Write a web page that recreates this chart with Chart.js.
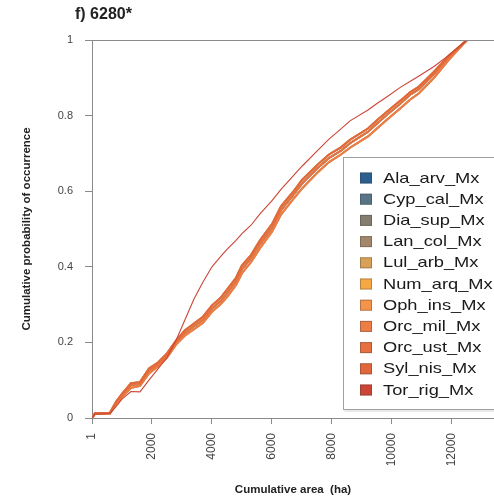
<!DOCTYPE html>
<html>
<head>
<meta charset="utf-8">
<script src="https://cdn.jsdelivr.net/npm/chart.js@4/dist/chart.umd.min.js"></script>
<style>
  html, body { margin: 0; padding: 0; background: #fff; }
  #wrap { width: 494px; height: 499px; position: relative; }
</style>
</head>
<body>
<div id="wrap"><canvas id="curveChart" width="494" height="499"></canvas></div>
<script>
// cumulative area (ha) where each curve is sampled
const areaHa = [0, 100, 600, 800, 1000, 1300, 1600, 1900, 2200, 2500, 2800, 3100, 3400, 3700,
  4000, 4300, 4500, 4800, 5000, 5300, 5600, 6000, 6300, 6700, 7000, 7500, 7900, 8300, 8600, 9200,
  9500, 9800, 10300, 10600, 10900, 11400, 11900, 12500];

// cumulative probability of occurrence, the three close curves of the main bundle
const bundleLow = [0, 0.011, 0.012, 0.036, 0.055, 0.08, 0.085, 0.118, 0.136, 0.16, 0.194, 0.218, 0.235, 0.252,
  0.281, 0.302, 0.32, 0.352, 0.383, 0.412, 0.449, 0.493, 0.538, 0.578, 0.607, 0.648, 0.677, 0.697, 0.715, 0.745,
  0.766, 0.787, 0.821, 0.842, 0.859, 0.9, 0.948, 1];
const bundleMid = [0, 0.012, 0.013, 0.04, 0.06, 0.087, 0.09, 0.125, 0.141, 0.165, 0.2, 0.225, 0.243, 0.26,
  0.29, 0.31, 0.33, 0.362, 0.394, 0.422, 0.46, 0.503, 0.55, 0.589, 0.62, 0.66, 0.688, 0.707, 0.727, 0.757,
  0.779, 0.8, 0.833, 0.855, 0.87, 0.91, 0.955, 1];
const bundleHigh = [0, 0.013, 0.014, 0.043, 0.064, 0.092, 0.095, 0.131, 0.147, 0.171, 0.205, 0.232, 0.25, 0.268,
  0.298, 0.319, 0.34, 0.371, 0.404, 0.431, 0.47, 0.513, 0.56, 0.598, 0.63, 0.669, 0.697, 0.716, 0.736, 0.766,
  0.788, 0.808, 0.841, 0.862, 0.877, 0.916, 0.959, 1];
// the curve that splits above the bundle after ~3000 ha
const torRig = [0, 0.01, 0.012, 0.03, 0.05, 0.07, 0.069, 0.1, 0.13, 0.16, 0.205, 0.26, 0.315, 0.36,
  0.4, 0.428, 0.446, 0.47, 0.488, 0.51, 0.54, 0.575, 0.605, 0.64, 0.666, 0.706, 0.738, 0.765, 0.786, 0.815,
  0.832, 0.848, 0.876, 0.89, 0.905, 0.93, 0.96, 1];

const seriesNames = ["Ala_arv_Mx", "Cyp_cal_Mx", "Dia_sup_Mx", "Lan_col_Mx", "Lul_arb_Mx", "Num_arq_Mx",
  "Oph_ins_Mx", "Orc_mil_Mx", "Orc_ust_Mx", "Syl_nis_Mx", "Tor_rig_Mx"];
const seriesColors = ["#2a5f8f", "#577587", "#857d6f", "#a4876a", "#d9a058", "#f7a843",
  "#f5934b", "#ee7c45", "#e6703f", "#e0683a", "#cc4535"];
const seriesValues = [bundleMid, bundleMid, bundleLow, bundleHigh, bundleLow, bundleMid,
  bundleHigh, bundleLow, bundleMid, bundleHigh, torRig];

const xTicks = [1, 2000, 4000, 6000, 8000, 10000, 12000];
const yTicks = [0, 0.2, 0.4, 0.6, 0.8, 1];

const axisGrey = "#8a8a8a";
const tickFont = { family: "'Liberation Sans', Arial, sans-serif", size: 11 };
const titleFont = { family: "'Liberation Sans', Arial, sans-serif", size: 11.5, weight: "bold" };

const datasets = seriesNames.map((name, i) => ({
  label: name,
  data: areaHa.map((x, j) => ({ x: x, y: seriesValues[i][j] })),
  borderColor: seriesColors[i],
  backgroundColor: seriesColors[i],
  borderWidth: i === 10 ? 1.1 : 1.9,
  pointRadius: 0,
  tension: 0,
  fill: false,
  order: seriesNames.length - i, // later series are painted on top
}));

// frame on top of the plot, panel title and the boxed legend
const decorations = {
  id: "decorations",
  afterDraw(chart) {
    const { ctx, chartArea } = chart;
    ctx.save();
    ctx.strokeStyle = axisGrey;
    ctx.lineWidth = 1;
    ctx.beginPath();
    ctx.moveTo(chartArea.left - 7, chartArea.top + 0.5);
    ctx.lineTo(chartArea.right, chartArea.top + 0.5);
    ctx.stroke();

    ctx.fillStyle = "#222";
    ctx.font = "bold 16px 'Liberation Sans', Arial, sans-serif";
    ctx.textBaseline = "middle";
    ctx.textAlign = "left";
    ctx.fillText("f) 6280*", 75, 15);

    // legend
    const bx = 343.5, by = 157.5, bw = 160, bh = 252;
    ctx.fillStyle = "#fff";
    ctx.fillRect(bx, by, bw, bh);
    ctx.strokeStyle = "#a0a0a0";
    ctx.strokeRect(bx, by, bw, bh);
    ctx.strokeStyle = "#d4d4d4";
    ctx.beginPath();
    ctx.moveTo(bx + 1, by + bh + 1.5);
    ctx.lineTo(bx + bw, by + bh + 1.5);
    ctx.stroke();

    ctx.font = "14.5px 'Liberation Sans', Arial, sans-serif";
    chart.data.datasets.forEach((ds, i) => {
      const cy = 178 + i * 21.2;
      ctx.fillStyle = ds.borderColor;
      ctx.fillRect(360, cy - 5.5, 12, 11);
      ctx.strokeStyle = "rgba(60,60,60,0.35)";
      ctx.strokeRect(360.5, cy - 5, 11, 10);
      // legend labels are set wide
      ctx.save();
      ctx.translate(383, cy + 0.5);
      ctx.scale(1.26, 1);
      ctx.fillStyle = "#1a1a1a";
      ctx.fillText(ds.label, 0, 0);
      ctx.restore();
    });
    ctx.restore();
  },
};

const ctx = document.getElementById("curveChart").getContext("2d");
const curveChart = new Chart(ctx, {
  type: "line",
  data: { datasets: datasets },
  options: {
    responsive: false,
    animation: false,
    layout: { padding: { top: 40, right: 0, left: 0, bottom: 0 } },
    plugins: {
      legend: { display: false },
      tooltip: { enabled: false },
    },
    scales: {
      x: {
        type: "linear",
        min: 1,
        max: 13400,
        afterFit: (scale) => { scale.height = 81; },
        afterBuildTicks: (scale) => { scale.ticks = xTicks.map((v) => ({ value: v })); },
        ticks: {
          minRotation: 90,
          maxRotation: 90,
          padding: 9,
          color: "#444",
          font: { family: tickFont.family, size: 12 },
          callback: (v) => String(v),
        },
        grid: { drawOnChartArea: false, drawTicks: true, tickLength: 6, color: axisGrey },
        border: { display: true, color: axisGrey },
        title: {
          display: true,
          text: "Cumulative area  (ha)",
          color: "#222",
          font: titleFont,
          padding: { top: 0, bottom: 2 },
        },
      },
      y: {
        type: "linear",
        min: 0,
        max: 1,
        afterFit: (scale) => { scale.width = 92; },
        afterBuildTicks: (scale) => { scale.ticks = yTicks.map((v) => ({ value: v })); },
        ticks: {
          padding: 12,
          color: "#444",
          font: tickFont,
          callback: (v) => (v === 0 || v === 1 ? String(v) : v.toFixed(1)),
        },
        grid: { drawOnChartArea: false, drawTicks: true, tickLength: 7, color: axisGrey },
        border: { display: true, color: axisGrey },
        title: {
          display: true,
          text: "Cumulative probability of occurrence",
          color: "#222",
          font: titleFont,
          padding: { top: 20, bottom: 0 },
        },
      },
    },
  },
  plugins: [decorations],
});
</script>
</body>
</html>
